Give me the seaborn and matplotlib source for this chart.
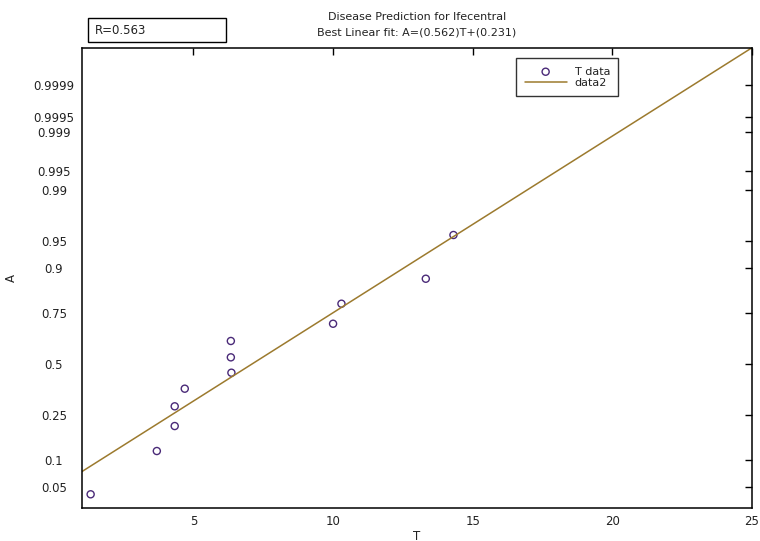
import matplotlib
matplotlib.use("Agg")
import matplotlib.pyplot as plt
import seaborn as sns
import pandas as pd
from matplotlib.patches import Rectangle
from statistics import NormalDist

# data (A is on a normal-probability scale, stored as z)
T_vals = [1.32, 3.69, 4.33, 4.33, 4.69, 6.36, 6.34, 6.34, 10.0, 10.3, 13.32, 14.31]
A_z = [-1.737, -1.16, -0.827, -0.564, -0.329, -0.116, 0.089, 0.307, 0.537, 0.804, 1.137, 1.72]

fit_T = [1, 25]
fit_z = [-1.436, 4.217]

prob_ticks = [0.05, 0.1, 0.25, 0.5, 0.75, 0.9, 0.95, 0.99, 0.995, 0.999, 0.9995, 0.9999]
prob_labels = ["0.05", "0.1", "0.25", "0.5", "0.75", "0.9", "0.95", "0.99", "0.995", "0.999", "0.9995", "0.9999"]

pts = pd.DataFrame({"T": T_vals, "A": A_z})
fit = pd.DataFrame({"T": fit_T, "A": fit_z})

sns.set_style("white")
plt.rcParams["font.family"] = ["DejaVu Sans"]
txt = "#222222"

fig = plt.figure(figsize=(7.6, 5.41), dpi=100)
ax = fig.add_axes([0.1075, 0.0604, 0.882, 0.8514])

sns.scatterplot(data=pts, x="T", y="A", ax=ax, marker="o", s=26,
                facecolors="none", edgecolor="#4a2a78", linewidth=1.0, label="T data")
sns.lineplot(data=fit, x="T", y="A", ax=ax, color="#9c7a2e", linewidth=1.1, label="data2")

ax.set_xlim(1, 25)
ax.set_ylim(-1.924, 4.217)
ax.set_xticks([5, 10, 15, 20, 25])
ax.set_yticks([NormalDist().inv_cdf(p) for p in prob_ticks])
ax.set_yticklabels(prob_labels, ha="center")

ax.tick_params(axis="both", direction="in", length=5, width=1, colors="black",
               labelcolor=txt, labelsize=8.5, top=True, right=True)
ax.tick_params(axis="y", pad=20)
ax.tick_params(axis="x", pad=5)
for s in ax.spines.values():
    s.set_linewidth(1.1)
    s.set_color("black")

ax.set_xlabel("T", fontsize=8.5, color=txt)
ax.xaxis.set_label_coords(0.5, -0.046)
ax.set_ylabel("A", fontsize=8.5, color=txt)
ax.yaxis.set_label_coords(-0.095, 0.5)
ax.set_title("Disease Prediction for lfecentral\nBest Linear fit: A=(0.562)T+(0.231)",
             fontsize=8, color=txt, pad=9, linespacing=1.6)

leg = ax.legend(loc="upper right", bbox_to_anchor=(0.8006, 0.977), borderaxespad=0,
                fontsize=8, frameon=True, fancybox=False, edgecolor="black",
                handlelength=3.8, handletextpad=0.7, borderpad=0.75, labelspacing=0.1)
leg.get_frame().set_linewidth(1.0)
for t in leg.get_texts():
    t.set_color(txt)

# correlation box in the top-left corner
fig.add_artist(Rectangle((87.7 / 760, 1 - 42.3 / 541), (226 - 87.7) / 760, (42.3 - 17.7) / 541,
                         transform=fig.transFigure, fill=False, edgecolor="black", linewidth=1.0))
fig.text(95 / 760, 1 - 31 / 541, "R=0.563", fontsize=8.5, color=txt, va="center", ha="left")

fig.savefig("out.png", dpi=100)
